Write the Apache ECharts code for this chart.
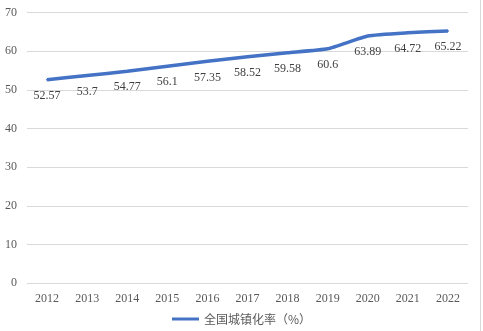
<!DOCTYPE html>
<html><head><meta charset="utf-8">
<script src="https://cdn.jsdelivr.net/npm/echarts@6/dist/echarts.min.js"></script>
<style>html,body{margin:0;padding:0;background:#fff}#c{width:483px;height:331px}</style>
</head><body><div id="c"></div>
<script>
const years = ['2012','2013','2014','2015','2016','2017','2018','2019','2020','2021','2022'];
const rates = [52.57,53.7,54.77,56.1,57.35,58.52,59.58,60.6,63.89,64.72,65.22];
const seriesName = '全国城镇化率（%）';
const chart = echarts.init(document.getElementById('c'), null, {renderer:'canvas'});
const serif = '"Liberation Serif","Times New Roman",serif';
chart.setOption({
  animation:false,
  grid:{left:27,right:15,top:12.4,bottom:47.7},
  legend:{bottom:1,left:'center',itemWidth:27,itemHeight:3,itemGap:4,icon:'rect',
    textStyle:{fontFamily:'"Noto Sans CJK SC",sans-serif',fontSize:12,color:'#595959'},
    data:[seriesName]},
  xAxis:{type:'category',data:years,boundaryGap:true,
    axisLine:{show:false},axisTick:{show:false},
    axisLabel:{fontFamily:serif,fontSize:12,color:'#595959',margin:10}},
  yAxis:{type:'value',min:0,max:70,interval:10,
    axisLine:{show:false},axisTick:{show:false},
    splitLine:{lineStyle:{color:'#d9d9d9',width:1}},
    axisLabel:{fontFamily:serif,fontSize:12,color:'#595959',margin:10}},
  series:[{name:seriesName,type:'line',data:rates,smooth:0.15,showSymbol:true,symbol:'circle',symbolSize:2,
    lineStyle:{color:'#4472C4',width:3.5},itemStyle:{color:'#4472C4'},
    label:{show:true,position:'bottom',distance:9,fontFamily:serif,fontSize:12,color:'#404040'}}],
  graphic:[{type:'line',shape:{x1:480.5,y1:0,x2:480.5,y2:331},style:{stroke:'#d9d9d9',lineWidth:1}}]
});
</script></body></html>
